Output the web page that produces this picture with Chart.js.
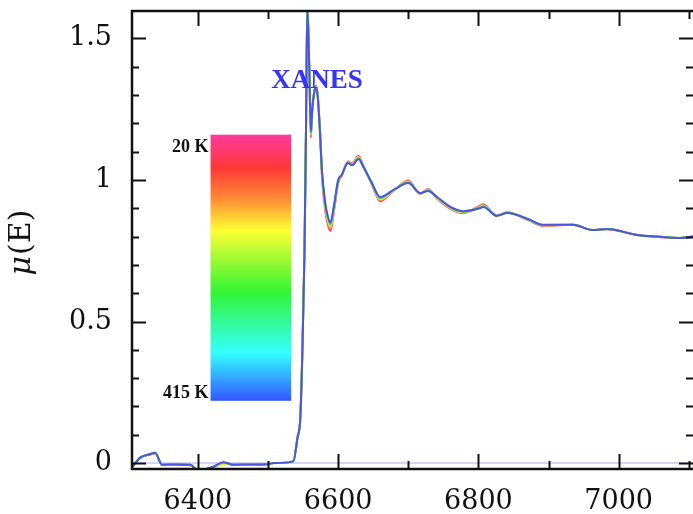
<!DOCTYPE html>
<html lang="en">
<head>
<meta charset="UTF-8" />
<title>XANES mu(E)</title>
<style>
    body { margin: 0; padding: 0; background: #fff; overflow: hidden; }
    #xanes-chart { display: block; }
</style>
</head>
<body>
<canvas id="xanes-chart" width="693" height="514"></canvas>
<script src="https://cdn.jsdelivr.net/npm/chart.js@4.4.0/dist/chart.umd.min.js"></script>
<script>
// photon energy (eV)
const energies = [6307, 6318, 6330, 6339, 6349, 6370, 6389, 6399, 6410, 6422,
    6436, 6451, 6475, 6499, 6508, 6536, 6542, 6546, 6549, 6552,
    6554, 6556, 6559, 6561, 6563, 6566, 6569, 6571, 6574, 6577,
    6581, 6584, 6589, 6594, 6600, 6605, 6614, 6620, 6629, 6636,
    6648, 6660, 6679, 6700, 6717, 6728, 6741, 6760, 6778, 6802,
    6807, 6826, 6841, 6871, 6892, 6935, 6963, 6983, 7026, 7055,
    7087, 7106];

// mu(E) at each temperature
const mu20K = [-0.012, 0.018, 0.030, 0.033, -0.006, -0.005, -0.006, -0.024, -0.022, -0.015,
    0.001, -0.006, -0.005, -0.004, 0.000, 0.006, 0.090, 0.160, 0.400, 0.750,
    1.150, 1.630, 1.370, 1.150, 1.240, 1.315, 1.332, 1.295, 1.180, 1.010,
    0.905, 0.855, 0.820, 0.890, 0.990, 1.014, 1.065, 1.058, 1.086, 1.050,
    0.985, 0.925, 0.962, 0.998, 0.950, 0.968, 0.935, 0.898, 0.883, 0.908,
    0.914, 0.872, 0.886, 0.858, 0.838, 0.842, 0.823, 0.826, 0.806, 0.799,
    0.795, 0.800];
const mu120K = [-0.012, 0.019, 0.030, 0.034, -0.006, -0.005, -0.006, -0.024, -0.022, -0.016,
    0.000, -0.006, -0.005, -0.004, 0.000, 0.006, 0.090, 0.160, 0.400, 0.750,
    1.150, 1.625, 1.370, 1.155, 1.243, 1.313, 1.330, 1.293, 1.178, 1.015,
    0.912, 0.862, 0.827, 0.895, 0.993, 1.015, 1.063, 1.057, 1.083, 1.049,
    0.986, 0.928, 0.963, 0.996, 0.951, 0.967, 0.936, 0.900, 0.885, 0.906,
    0.912, 0.873, 0.885, 0.859, 0.839, 0.842, 0.823, 0.827, 0.806, 0.800,
    0.795, 0.800];
const mu220K = [-0.012, 0.019, 0.030, 0.035, -0.006, -0.005, -0.006, -0.024, -0.022, -0.017,
    -0.004, -0.006, -0.005, -0.004, 0.000, 0.006, 0.090, 0.160, 0.400, 0.750,
    1.150, 1.620, 1.375, 1.160, 1.245, 1.312, 1.328, 1.292, 1.175, 1.020,
    0.918, 0.870, 0.835, 0.900, 0.995, 1.016, 1.062, 1.055, 1.080, 1.048,
    0.988, 0.932, 0.963, 0.993, 0.952, 0.965, 0.937, 0.901, 0.886, 0.904,
    0.909, 0.873, 0.884, 0.860, 0.840, 0.842, 0.823, 0.827, 0.806, 0.800,
    0.795, 0.800];
const mu320K = [-0.012, 0.020, 0.030, 0.036, -0.006, -0.005, -0.006, -0.024, -0.022, -0.014,
    0.002, -0.006, -0.005, -0.004, 0.000, 0.006, 0.090, 0.160, 0.400, 0.750,
    1.150, 1.615, 1.380, 1.165, 1.248, 1.311, 1.327, 1.291, 1.172, 1.025,
    0.924, 0.878, 0.843, 0.905, 0.998, 1.017, 1.061, 1.053, 1.077, 1.047,
    0.989, 0.936, 0.964, 0.991, 0.953, 0.963, 0.939, 0.903, 0.888, 0.902,
    0.907, 0.874, 0.884, 0.861, 0.841, 0.842, 0.823, 0.827, 0.806, 0.800,
    0.795, 0.800];
const mu415K = [-0.012, 0.020, 0.030, 0.036, -0.006, -0.005, -0.006, -0.024, -0.022, -0.013,
    0.003, -0.006, -0.005, -0.004, 0.000, 0.006, 0.090, 0.160, 0.400, 0.750,
    1.150, 1.610, 1.380, 1.170, 1.250, 1.310, 1.325, 1.290, 1.170, 1.030,
    0.930, 0.885, 0.850, 0.910, 1.000, 1.018, 1.060, 1.052, 1.074, 1.046,
    0.990, 0.940, 0.965, 0.989, 0.954, 0.961, 0.940, 0.905, 0.890, 0.900,
    0.905, 0.874, 0.883, 0.862, 0.842, 0.842, 0.823, 0.827, 0.806, 0.800,
    0.795, 0.800];

const seriesNames = ["20 K", "120 K", "220 K", "320 K", "415 K"];
const seriesValues = [mu20K, mu120K, mu220K, mu320K, mu415K];
const seriesColors = ["#ff3399", "#ff8c33", "#e2e633", "#33dd88", "#4b55dd"];
const baselineLevel = 0;

const xTicks = [6400, 6500, 6600, 6700, 6800, 6900, 7000, 7100];
const xTickLabels = ["6400", "6600", "6800", "7000"];
const yTickLabels = ["0", "0.5", "1", "1.5"];
const barEnds = ["20 K", "415 K"];

const datasets = seriesValues.map((vals, i) => ({
    label: seriesNames[i],
    data: vals.map((v, k) => ({ x: energies[k], y: v })),
    borderColor: seriesColors[i],
    borderWidth: 2,
    pointRadius: 0,
    cubicInterpolationMode: "monotone",
    order: seriesValues.length - i,
}));
datasets.push({
    label: "baseline",
    data: [{ x: energies[0], y: baselineLevel }, { x: energies[energies.length - 1], y: baselineLevel }],
    borderColor: "#c9c9f0",
    borderWidth: 1.5,
    pointRadius: 0,
    order: 20,
});

// frame, inward ticks, x labels, colour bar and texts
const decorPlugin = {
    id: "decor",
    afterDraw(chart) {
        const { ctx, chartArea: a, scales } = chart;
        const x = scales.x, y = scales.y;
        ctx.save();

        // colour bar
        const bl = x.getPixelForValue(6418), br = x.getPixelForValue(6533);
        const bt = y.getPixelForValue(1.16), bb = y.getPixelForValue(0.22);
        const g = ctx.createLinearGradient(0, bt, 0, bb);
        g.addColorStop(0, "#ff3a9e");
        g.addColorStop(0.125, "#ff3838");
        g.addColorStop(0.24, "#ff8a35");
        g.addColorStop(0.36, "#ffff33");
        g.addColorStop(0.59, "#33f533");
        g.addColorStop(0.82, "#33ffff");
        g.addColorStop(1, "#3355ff");
        ctx.fillStyle = g;
        ctx.fillRect(bl, bt, br - bl, bb - bt);

        ctx.fillStyle = "#111";
        ctx.font = "bold 18px 'Liberation Serif'";
        ctx.textAlign = "right";
        ctx.textBaseline = "alphabetic";
        ctx.fillText(barEnds[0], bl - 2, bt + 17);
        ctx.fillText(barEnds[1], bl - 2, bb - 3);

        // XANES label
        ctx.fillStyle = "#3535f5";
        ctx.font = "bold 27px 'Liberation Serif'";
        ctx.textAlign = "center";
        ctx.fillText("XANES", x.getPixelForValue(6570), y.getPixelForValue(1.325));

        // x tick labels
        ctx.fillStyle = "#111";
        ctx.font = "27px 'DejaVu Serif'";
        x.ticks.forEach((t) => {
            const s = String(t.value);
            if (xTickLabels.includes(s)) ctx.fillText(s, x.getPixelForValue(t.value), 509);
        });

        // y title: italic mu + (E)
        ctx.translate(22, 243);
        ctx.rotate(-Math.PI / 2);
        ctx.textAlign = "left";
        ctx.textBaseline = "middle";
        ctx.font = "italic 30px 'DejaVu Serif'";
        const w1 = ctx.measureText("\u03bc").width;
        ctx.font = "30px 'DejaVu Serif'";
        const w2 = ctx.measureText("(E)").width;
        const start = -(w1 + w2) / 2;
        ctx.font = "italic 30px 'DejaVu Serif'";
        ctx.fillText("\u03bc", start, 0);
        ctx.font = "30px 'DejaVu Serif'";
        ctx.fillText("(E)", start + w1 + 1, 0);
        ctx.setTransform(1, 0, 0, 1, 0, 0);

        // ticks on all four sides
        ctx.strokeStyle = "#111";
        ctx.lineWidth = 2;
        ctx.beginPath();
        x.ticks.forEach((t) => {
            const px = Math.round(x.getPixelForValue(t.value)) + 0.5;
            const len = xTickLabels.includes(String(t.value)) ? 15 : 8;
            ctx.moveTo(px, a.bottom); ctx.lineTo(px, a.bottom - len);
            ctx.moveTo(px, a.top); ctx.lineTo(px, a.top + len);
        });
        y.ticks.forEach((t) => {
            const py = Math.round(y.getPixelForValue(t.value)) + 0.5;
            const len = yTickLabels.includes(String(Math.round(t.value * 10) / 10)) ? 14 : 7;
            ctx.moveTo(a.left, py); ctx.lineTo(a.left + len, py);
            ctx.moveTo(a.right, py); ctx.lineTo(a.right - len, py);
        });
        ctx.stroke();

        // frame: left, top, bottom (right edge is cut off)
        ctx.lineWidth = 2.5;
        ctx.beginPath();
        ctx.moveTo(a.right, a.top); ctx.lineTo(a.left, a.top);
        ctx.lineTo(a.left, a.bottom); ctx.lineTo(a.right, a.bottom);
        ctx.stroke();
        ctx.restore();
    },
};

new Chart(document.getElementById("xanes-chart"), {
    type: "line",
    data: { datasets: datasets },
    options: {
        responsive: false,
        animation: false,
        devicePixelRatio: 1,
        layout: { padding: { top: 11, right: 0, left: 0, bottom: 0 } },
        plugins: { legend: { display: false }, tooltip: { enabled: false } },
        scales: {
            x: {
                type: "linear",
                min: 6306,
                max: 7106,
                grid: { display: false, drawTicks: false },
                border: { display: false },
                ticks: { display: false },
                afterBuildTicks: (s) => { s.ticks = xTicks.map((v) => ({ value: v })); },
                afterFit: (s) => { s.height = 45; s.paddingLeft = 0; s.paddingRight = 0; },
            },
            y: {
                min: -0.021,
                max: 1.597,
                grid: { display: false, drawTicks: false },
                border: { display: false },
                ticks: {
                    stepSize: 0.1,
                    includeBounds: false,
                    autoSkip: false,
                    padding: 20,
                    color: "#111",
                    font: { family: "'DejaVu Serif'", size: 27 },
                    callback: (v) => {
                        const s = String(Math.round(v * 10) / 10);
                        return yTickLabels.includes(s) ? s : "";
                    },
                },
                afterFit: (s) => { s.width = 132; s.paddingTop = 0; s.paddingBottom = 0; },
            },
        },
    },
    plugins: [decorPlugin],
});
</script>
</body>
</html>
